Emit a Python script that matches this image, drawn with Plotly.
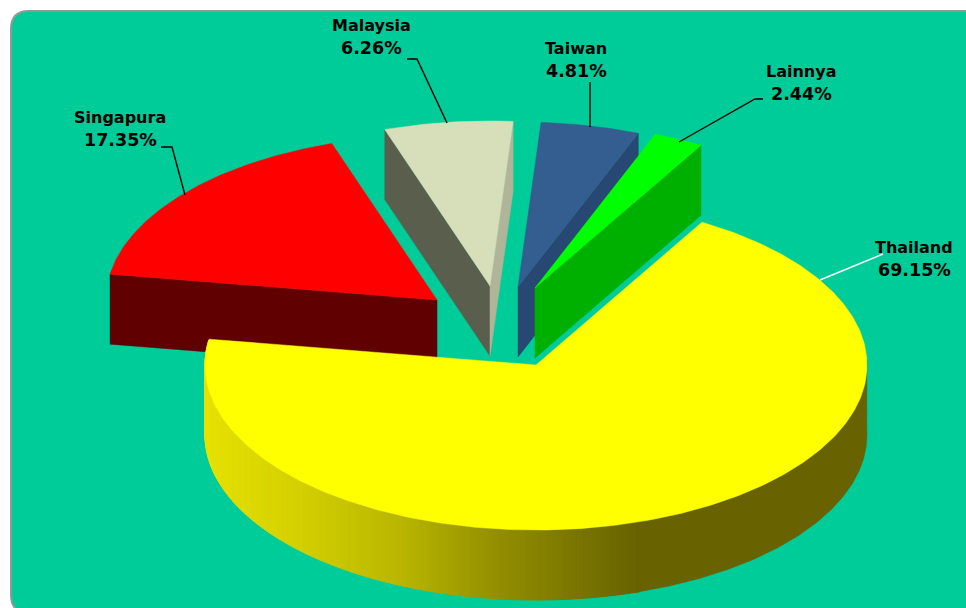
import numpy as np
import plotly.graph_objects as go

# ---- data ----
categories = ["Thailand", "Singapura", "Malaysia", "Taiwan", "Lainnya"]
values = [69.15, 17.35, 6.26, 4.81, 2.44]

# ---- style / layout ----
top_colors = ["#FFFF00", "#FF0000", "#D6DFB9", "#335E8F", "#00FF00"]
pull_x = [0, -99, -46, -18, -1]
pull_y = [0, -65, -79, -78, -77]
CX, CY, RX, RY, DEPTH = 536, 365, 331, 165, 70
START_DEG = 30.1
BG = "#00CC99"

label_pos = {"Thailand": (914, 247), "Singapura": (120, 117), "Malaysia": (371, 25),
             "Taiwan": (576, 48), "Lainnya": (801, 71)}
label_gap = 22.5
leaders = {"Thailand": ([883, 820], [254, 280], "white"),
           "Singapura": ([161, 172, 185], [147, 147, 195], "black"),
           "Malaysia": ([407, 417, 447], [59, 59, 123], "black"),
           "Taiwan": ([590, 590], [82, 127], "black"),
           "Lainnya": ([763, 755, 679], [99, 99, 142], "black")}

# slice angle bounds derived from the values (clockwise from 12 o'clock)
total = sum(values)
bounds = START_DEG + np.concatenate([[0], np.cumsum(values)]) * 360.0 / total
spans = {c: (bounds[i], bounds[i + 1]) for i, c in enumerate(categories)}
idx = {c: i for i, c in enumerate(categories)}


def rim(cat, n=None):
    a0, a1 = spans[cat]
    n = n or max(8, int((a1 - a0) * 1.5))
    t = np.radians(np.linspace(a0, a1, n))
    i = idx[cat]
    return CX + pull_x[i] + RX * np.sin(t), CY + pull_y[i] - RY * np.cos(t)


def apex(cat):
    i = idx[cat]
    return CX + pull_x[i], CY + pull_y[i]


fig = go.Figure()


def poly(xs, ys, color, lw=0.5):
    fig.add_trace(go.Scatter(x=list(xs), y=list(ys), mode="lines", fill="toself",
                             fillcolor=color, line=dict(color=color, width=lw),
                             hoverinfo="skip", showlegend=False))


def wall(p0, p1, color):
    poly([p0[0], p1[0], p1[0], p0[0], p0[0]],
         [p0[1], p1[1], p1[1] + DEPTH, p0[1] + DEPTH, p0[1]], color)


def top(cat):
    x, y = rim(cat)
    ax, ay = apex(cat)
    poly(np.r_[ax, x, ax], np.r_[ay, y, ay], top_colors[idx[cat]])


# Singapura
x, y = rim("Singapura")
wall((x[0], y[0]), apex("Singapura"), "#600000")
top("Singapura")
# Malaysia
x, y = rim("Malaysia")
wall((x[0], y[0]), apex("Malaysia"), "#5A5E4C")
wall(apex("Malaysia"), (x[-1], y[-1]), "#B0B498")
top("Malaysia")
# Taiwan
x, y = rim("Taiwan")
wall(apex("Taiwan"), (x[-1], y[-1]), "#274872")
top("Taiwan")
# Lainnya
x, y = rim("Lainnya")
wall(apex("Lainnya"), (x[-1], y[-1]), "#00B000")
top("Lainnya")

# Thailand outer wall: flat dark part on the right, then a fine left-to-right shade
DARK = "rgb(104,98,0)"
SPLIT_DEG = 161.7
tr = np.radians(np.linspace(88, SPLIT_DEG + 0.6, 120))
rx_ = CX + RX * np.sin(tr)
ry_ = CY - RY * np.cos(tr)
poly(np.r_[rx_, rx_[::-1], rx_[0]], np.r_[ry_, ry_[::-1] + DEPTH, ry_[0]], DARK)

stops_x = [205, 300, 400, 500, 640]
stops_rgb = np.array([[232, 226, 0], [212, 208, 0], [186, 182, 0], [146, 142, 0], [104, 98, 0]])
t = np.radians(np.arange(SPLIT_DEG, 279, 0.6))
wx = CX + RX * np.sin(t)
wy = CY - RY * np.cos(t)
for k in range(len(t) - 1):
    mid = (wx[k] + wx[k + 1]) / 2
    rgb = [int(np.interp(mid, stops_x, stops_rgb[:, c])) for c in range(3)]
    poly([wx[k], wx[k + 1], wx[k + 1], wx[k], wx[k]],
         [wy[k], wy[k + 1], wy[k + 1] + DEPTH, wy[k] + DEPTH, wy[k]],
         f"rgb({rgb[0]},{rgb[1]},{rgb[2]})", lw=1)
top("Thailand")

# leader lines
for c in categories:
    lx, ly, col = leaders[c]
    fig.add_trace(go.Scatter(x=lx, y=ly, mode="lines", line=dict(color=col, width=1.4),
                             hoverinfo="skip", showlegend=False))

# labels
for c, v in zip(categories, values):
    px, py = label_pos[c]
    for txt, yy, size in ((c, py, 16), (f"{v:.2f}%", py + label_gap, 17.5)):
        fig.add_annotation(x=px, y=yy, text=f"<b>{txt}</b>", showarrow=False,
                           xanchor="center", yanchor="middle",
                           font=dict(family="DejaVu Sans", size=size, color="#000000"))

r = 18
fig.add_shape(type="path", layer="below",
              path=f"M 11 {11 + r} Q 11 11 {11 + r} 11 L 990 11 L 990 613 L {11 + r} 613 Q 11 613 11 {613 - r} Z",
              fillcolor=BG, line=dict(color="#8E9A96", width=2))

fig.update_layout(width=966, height=608,
                  margin=dict(l=0, r=0, t=0, b=0),
                  paper_bgcolor="white", plot_bgcolor="white", autosize=False,
                  xaxis=dict(range=[0, 966], visible=False, fixedrange=True),
                  yaxis=dict(range=[608, 0], visible=False, fixedrange=True))
# drop the page's default body margin so the figure fills the whole window
fig.write_html("out.html", config={"displayModeBar": False},
               post_script="document.body.style.margin='0';document.body.style.overflow='hidden';")
